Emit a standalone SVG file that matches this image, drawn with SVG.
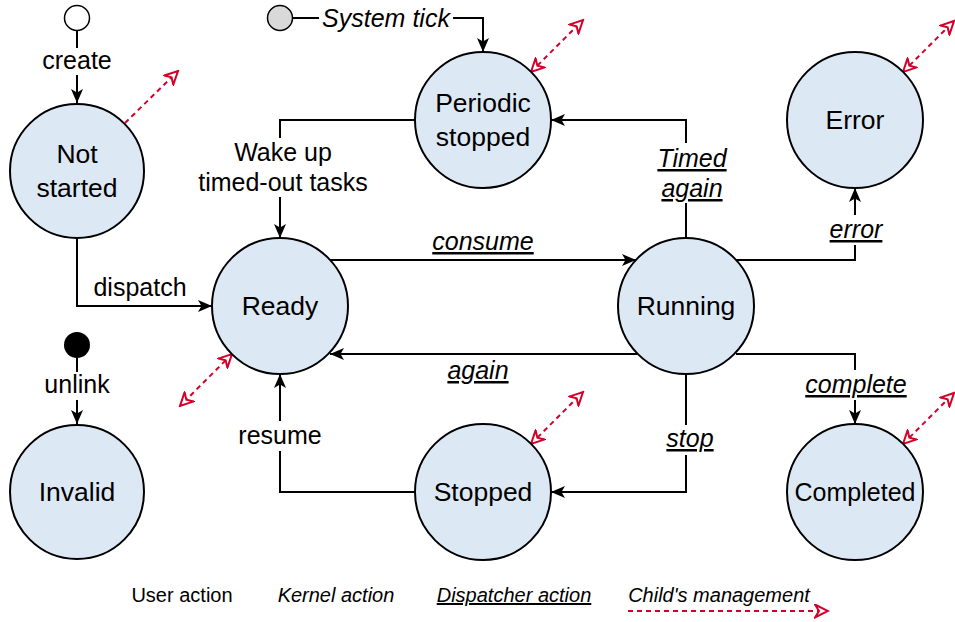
<svg xmlns="http://www.w3.org/2000/svg" width="955" height="622" viewBox="0 0 955 622">
  <style>
    text { font-family: "Liberation Sans", Arial, sans-serif; font-size: 25px; fill: #000; text-anchor: middle; }
    .state { fill: #dce9f5; stroke: #000; stroke-width: 2; }
    .name { font-size: 26.5px; }
    .edge { fill: none; stroke: #000; stroke-width: 2; marker-end: url(#arrow); }
    .child { fill: none; stroke: #d4002a; stroke-width: 2; stroke-dasharray: 5 4; }
    .bg { fill: #fff; }
    .kernel { font-style: italic; }
    .disp { font-style: italic; text-decoration: underline; }
    .legend { font-size: 20px; }
  </style>
  <defs>
    <marker id="arrow" viewBox="0 0 14 12" refX="14" refY="6" markerWidth="14" markerHeight="12" markerUnits="userSpaceOnUse" orient="auto">
      <path d="M0,0 L14,6 L0,12 L3.5,6 Z" fill="#000"/>
    </marker>
    <marker id="open" viewBox="-1 -1 16 15" refX="13" refY="6.5" markerWidth="16" markerHeight="15" markerUnits="userSpaceOnUse" orient="auto-start-reverse">
      <path d="M0,0 L13,6.5 L0,13 L4,6.5 Z" fill="#fff" stroke="#d4002a" stroke-width="2" stroke-linejoin="miter"/>
    </marker>
  </defs>
  <rect width="955" height="622" fill="#fff"/>

  <!-- transitions -->
  <g id="connectors">
    <path class="edge" d="M77,31 V103"/>
    <path class="edge" d="M77,239 V306 H212"/>
    <path class="edge" d="M77,358 V424"/>
    <path class="edge" d="M293,18 H483 V52"/>
    <path class="edge" d="M415,120 H280 V238"/>
    <path class="edge" d="M330,260 H636"/>
    <path class="edge" d="M637,354 H330"/>
    <path class="edge" d="M686,238 V120 H551"/>
    <path class="edge" d="M736,260 H855 V188"/>
    <path class="edge" d="M736,354 H855 V424"/>
    <path class="edge" d="M686,374 V492 H551"/>
    <path class="edge" d="M415,492 H280 V374"/>

    <!-- label backgrounds -->
    <rect class="bg" x="44" y="48" width="68" height="27"/>
    <rect class="bg" x="44" y="372" width="66" height="28"/>
    <rect class="bg" x="319" y="5" width="134" height="27"/>
    <rect class="bg" x="196" y="138" width="176" height="59"/>
    <rect class="bg" x="655" y="143" width="74" height="60"/>
    <rect class="bg" x="827" y="215" width="58" height="30"/>
    <rect class="bg" x="803" y="370" width="106" height="30"/>
    <rect class="bg" x="663" y="425" width="54" height="30"/>
    <rect class="bg" x="236" y="421" width="88" height="30"/>

    <!-- labels -->
    <text x="77" y="69">create</text>
    <text x="140" y="296">dispatch</text>
    <text x="77" y="393">unlink</text>
    <text x="386" y="27" class="kernel">System tick</text>
    <text x="283" y="161">Wake up</text>
    <text x="283" y="191">timed-out tasks</text>
    <text x="483" y="250" class="disp">consume</text>
    <text x="478" y="379" class="disp">again</text>
    <text x="692" y="167" class="disp">Timed</text>
    <text x="692" y="197" class="disp">again</text>
    <text x="856" y="238" class="disp">error</text>
    <text x="856" y="393" class="disp">complete</text>
    <text x="690" y="447" class="disp">stop</text>
    <text x="280" y="444">resume</text>

    <!-- child management links -->
    <line class="child" x1="125" y1="123" x2="178" y2="71" marker-end="url(#open)"/>
    <line class="child" x1="531" y1="72" x2="583" y2="20" marker-start="url(#open)" marker-end="url(#open)"/>
    <line class="child" x1="903" y1="72" x2="954" y2="21" marker-start="url(#open)" marker-end="url(#open)"/>
    <line class="child" x1="232" y1="354" x2="180" y2="406" marker-start="url(#open)" marker-end="url(#open)"/>
    <line class="child" x1="531" y1="444" x2="583" y2="392" marker-start="url(#open)" marker-end="url(#open)"/>
    <line class="child" x1="903" y1="444" x2="954" y2="393" marker-start="url(#open)" marker-end="url(#open)"/>
  </g>

  <!-- pseudo states -->
  <g id="initial">
    <circle cx="77" cy="18" r="12.5" fill="#fff" stroke="#000" stroke-width="1.5"/>
  </g>
  <g id="tick">
    <circle cx="280" cy="18" r="12.5" fill="#d9d9d9" stroke="#000" stroke-width="1.5"/>
  </g>
  <g id="final">
    <circle cx="77" cy="345" r="13" fill="#000"/>
  </g>

  <!-- states -->
  <g id="not-started">
    <circle class="state" cx="77" cy="171" r="67"/>
    <text class="name" x="77" y="163">Not</text>
    <text class="name" x="77" y="197">started</text>
  </g>
  <g id="invalid">
    <circle class="state" cx="77" cy="492" r="67"/>
    <text class="name" x="77" y="501">Invalid</text>
  </g>
  <g id="ready">
    <circle class="state" cx="280" cy="306" r="68"/>
    <text class="name" x="280" y="315">Ready</text>
  </g>
  <g id="periodic-stopped">
    <circle class="state" cx="483" cy="120" r="68"/>
    <text class="name" x="483" y="112">Periodic</text>
    <text class="name" x="483" y="146">stopped</text>
  </g>
  <g id="stopped">
    <circle class="state" cx="483" cy="492" r="68"/>
    <text class="name" x="483" y="501">Stopped</text>
  </g>
  <g id="running">
    <circle class="state" cx="686" cy="306" r="68"/>
    <text class="name" x="686" y="315">Running</text>
  </g>
  <g id="error">
    <circle class="state" cx="855" cy="120" r="68"/>
    <text class="name" x="855" y="129">Error</text>
  </g>
  <g id="completed">
    <circle class="state" cx="855" cy="492" r="68"/>
    <text x="855" y="501">Completed</text>
  </g>

  <!-- legend -->
  <g id="legend">
    <text class="legend" x="182" y="602">User action</text>
    <text class="legend kernel" x="336" y="602">Kernel action</text>
    <text class="legend disp" x="514" y="602">Dispatcher action</text>
    <text class="legend kernel" x="719" y="602">Child's management</text>
    <line class="child" x1="628" y1="611" x2="828" y2="611" marker-end="url(#open)"/>
  </g>
</svg>
